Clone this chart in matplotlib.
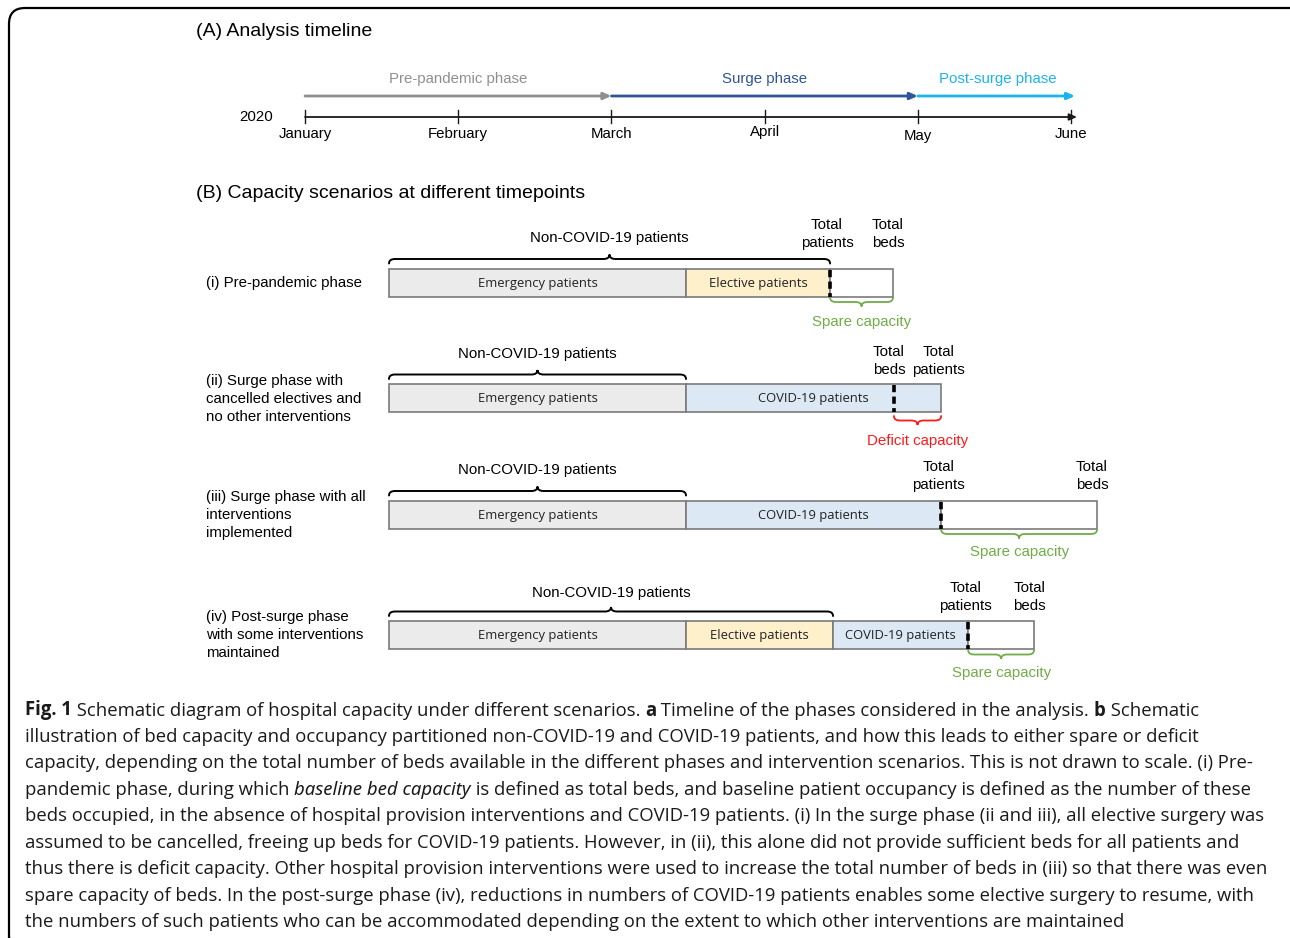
import matplotlib
matplotlib.use("Agg")
import matplotlib.pyplot as plt
from matplotlib.patches import FancyBboxPatch, PathPatch
from matplotlib.path import Path

# ---------------- data ----------------
months = ["January", "February", "March", "April", "May", "June"]
year_label = "2020"
phase_names = ["Pre-pandemic phase", "Surge phase", "Post-surge phase"]
phase_start = [0, 2, 4]          # month index
phase_end = [2, 4, 5]
phase_colors = ["#8f8f8f", "#2f5597", "#1cb4f0"]

row_labels = ["(i) Pre-pandemic phase",
              "(ii) Surge phase with\ncancelled electives and\nno other interventions",
              "(iii) Surge phase with all\ninterventions\nimplemented",
              "(iv) Post-surge phase\nwith some interventions\nmaintained"]
emergency = [100.0, 100.0, 100.0, 100.0]   # schematic bed units
elective = [48.5, 0.0, 0.0, 49.5]
covid = [0.0, 85.9, 85.9, 45.5]
total_beds = [169.7, 170.0, 238.4, 217.2]

seg_names = ["Emergency patients", "Elective patients", "COVID-19 patients"]
seg_colors = ["#ebebeb", "#fdf0cb", "#dce8f4"]

# ---------------- figure ----------------
W, H = 1290, 938
fig = plt.figure(figsize=(W / 100, H / 100), dpi=100)

axp = fig.add_axes([0, 0, 1, 1])
axp.set_xlim(0, W)
axp.set_ylim(H, 0)
axp.axis("off")

ARIAL = "Liberation Sans"
CAL = "Open Sans"
FS = 10.8

frame = FancyBboxPatch((9, 8), 1300, 946, boxstyle="round,pad=0,rounding_size=16",
                       fc="none", ec="black", lw=1.6, clip_on=False)
axp.add_patch(frame)

axp.text(196, 32, "(A) Analysis timeline", family=ARIAL, fontsize=14, va="center", ha="left")
axp.text(196, 193, "(B) Capacity scenarios at different timepoints", family=ARIAL, fontsize=14,
         va="center", ha="left")

# ---------------- timeline axes (x in months) ----------------
m0, mpx = 305.0, 153.2
axt = fig.add_axes([0, 0, 1, 1])
axt.set_xlim(-m0 / mpx, (W - m0) / mpx)
axt.set_ylim(H, 0)
axt.axis("off")
axt.patch.set_alpha(0)

ty = 117
axt.annotate("", xy=(5 + 6 / mpx, ty), xytext=(0, ty),
             arrowprops=dict(arrowstyle="-|>,head_length=0.45,head_width=0.2", color="#1a1a1a", lw=1.3,
                             shrinkA=0, shrinkB=0))
month_y = [134, 134, 134, 132, 136, 134]
for i, m in enumerate(months):
    axt.plot([i, i], [110, 123], color="#1a1a1a", lw=1.0)
    axt.text(i, month_y[i], m, family=ARIAL, fontsize=FS, ha="center", va="center")
axt.text(-0.32, ty, year_label, family=ARIAL, fontsize=FS, ha="center", va="center")

py = 96
for name, s, e, c in zip(phase_names, phase_start, phase_end, phase_colors):
    axt.annotate("", xy=(e + (4 / mpx if e == 5 else 0), py), xytext=(s, py),
                 arrowprops=dict(arrowstyle="-|>,head_length=0.45,head_width=0.2", color=c, lw=2.0,
                                 shrinkA=0, shrinkB=0))
label_x = [1.0, 3.0, 4.52]
for name, lx, c in zip(phase_names, label_x, phase_colors):
    axt.text(lx, 79, name, family=ARIAL, fontsize=FS, color=c, ha="center", va="center")

# ---------------- capacity axes (x in bed units) ----------------
b0, bpx = 389.0, 2.97
axb = fig.add_axes([0, 0, 1, 1])
axb.set_xlim(-b0 / bpx, (W - b0) / bpx)
axb.set_ylim(H, 0)
axb.axis("off")
axb.patch.set_alpha(0)

row_y = [283, 398.5, 515, 635.5]
bar_h = 28
label_line_y = [[283], [381, 399, 417], [497, 515, 533], [617, 635, 653]]
total_lbl_y = [234, 361, 476, 597]
noncovid_y = [238, 354, 470, 593]
cap_brace_dy = [5, 8, 5, 5]
cap_label_dy = [25, 29, 23, 23]


def brace(ax, x1, x2, y, up=True, color="black", lw=1.4):
    r = 6 / bpx
    d = 4.5 if up else -4.5
    xm = (x1 + x2) / 2
    verts = [(x1, y + d), (x1, y), (x1 + r, y),
             (xm - r, y), (xm, y), (xm, y - d),
             (xm, y), (xm + r, y),
             (x2 - r, y), (x2, y), (x2, y + d)]
    codes = [Path.MOVETO, Path.CURVE3, Path.CURVE3,
             Path.LINETO, Path.CURVE3, Path.CURVE3,
             Path.CURVE3, Path.CURVE3,
             Path.LINETO, Path.CURVE3, Path.CURVE3]
    ax.add_patch(PathPatch(Path(verts, codes), fc="none", ec=color, lw=lw, capstyle="round"))


for k in range(4):
    yc = row_y[k]
    segs = [emergency[k], elective[k], covid[k]]
    left = 0.0
    for v, n, c in zip(segs, seg_names, seg_colors):
        if v <= 0:
            continue
        axb.barh(yc, v, left=left, height=bar_h, color=c, edgecolor="#7a7a7a", lw=1.2)
        axb.text(left + v / 2, yc, n, family=CAL, fontsize=9.4, ha="center", va="center", color="#222222")
        left += v
    patients = left
    beds = total_beds[k]
    if beds > patients:
        axb.barh(yc, beds - patients, left=patients, height=bar_h, color="white",
                 edgecolor="#7a7a7a", lw=1.2)
        dash_x = patients
    else:
        dash_x = beds
    axb.plot([dash_x, dash_x], [yc - bar_h / 2 + 1, yc + bar_h / 2], color="black", lw=2.6,
             dashes=(2.0, 1.2))

    for line, ly in zip(row_labels[k].split("\n"), label_line_y[k]):
        axp.text(206, ly, line, family=ARIAL, fontsize=FS, ha="left", va="center")

    nc = emergency[k] + elective[k]
    by = yc - bar_h / 2 - 10
    brace(axb, 0, nc, by, up=True)
    axb.text(nc / 2, noncovid_y[k], "Non-COVID-19 patients", family=ARIAL, fontsize=FS,
             ha="center", va="center")

    ty2 = total_lbl_y[k]
    axb.text(patients - 3 / bpx, ty2, "Total\npatients", family=ARIAL, fontsize=FS, ha="center",
             va="center", linespacing=1.4)
    axb.text(beds - 5 / bpx, ty2, "Total\nbeds", family=ARIAL, fontsize=FS, ha="center",
             va="center", linespacing=1.4)

    lo, hi = min(patients, beds), max(patients, beds)
    spare = beds > patients
    col = "#70ad47" if spare else "#ff1a1a"
    gy = yc + bar_h / 2 + cap_brace_dy[k]
    brace(axb, lo, hi, gy, up=False, color=col, lw=1.3)
    axb.text((lo + hi) / 2, yc + bar_h / 2 + cap_label_dy[k],
             "Spare capacity" if spare else "Deficit capacity",
             family=ARIAL, fontsize=FS, color=col, ha="center", va="center")

# ---------------- caption ----------------
caption = [
    [("Fig. 1", "b"), (" Schematic diagram of hospital capacity under different scenarios. ", "n"), ("a", "b"),
     (" Timeline of the phases considered in the analysis. ", "n"), ("b", "b"), (" Schematic", "n")],
    [("illustration of bed capacity and occupancy partitioned non-COVID-19 and COVID-19 patients, and how this leads to either spare or deficit", "n")],
    [("capacity, depending on the total number of beds available in the different phases and intervention scenarios. This is not drawn to scale. (i) Pre-", "n")],
    [("pandemic phase, during which ", "n"), ("baseline bed capacity", "i"),
     (" is defined as total beds, and baseline patient occupancy is defined as the number of these", "n")],
    [("beds occupied, in the absence of hospital provision interventions and COVID-19 patients. (i) In the surge phase (ii and iii), all elective surgery was", "n")],
    [("assumed to be cancelled, freeing up beds for COVID-19 patients. However, in (ii), this alone did not provide sufficient beds for all patients and", "n")],
    [("thus there is deficit capacity. Other hospital provision interventions were used to increase the total number of beds in (iii) so that there was even", "n")],
    [("spare capacity of beds. In the post-surge phase (iv), reductions in numbers of COVID-19 patients enables some elective surgery to resume, with", "n")],
    [("the numbers of such patients who can be accommodated depending on the extent to which other interventions are maintained", "n")],
]
cap_y0, cap_dy = 715.5, 26.45
renderer = fig.canvas.get_renderer()
cap_fs = 13.35


def style_kw(s):
    if s == "b":
        return dict(family=CAL, fontweight="bold")
    if s == "i":
        return dict(family="Noto Sans", fontstyle="italic")
    return dict(family=CAL)


def measure(txt, s):
    kw = style_kw(s)
    t1 = axp.text(0, 0, "X" + txt + "X", fontsize=cap_fs, **kw)
    t2 = axp.text(0, 0, "XX", fontsize=cap_fs, **kw)
    w = t1.get_window_extent(renderer).width - t2.get_window_extent(renderer).width
    t1.remove(); t2.remove()
    return w


for li, pieces in enumerate(caption):
    x = 25
    y = cap_y0 + li * cap_dy
    for txt, s in pieces:
        axp.text(x, y, txt, fontsize=cap_fs, ha="left", va="baseline", color="#1a1a1a", **style_kw(s))
        x += measure(txt, s)

fig.savefig("out.png", dpi=100)
